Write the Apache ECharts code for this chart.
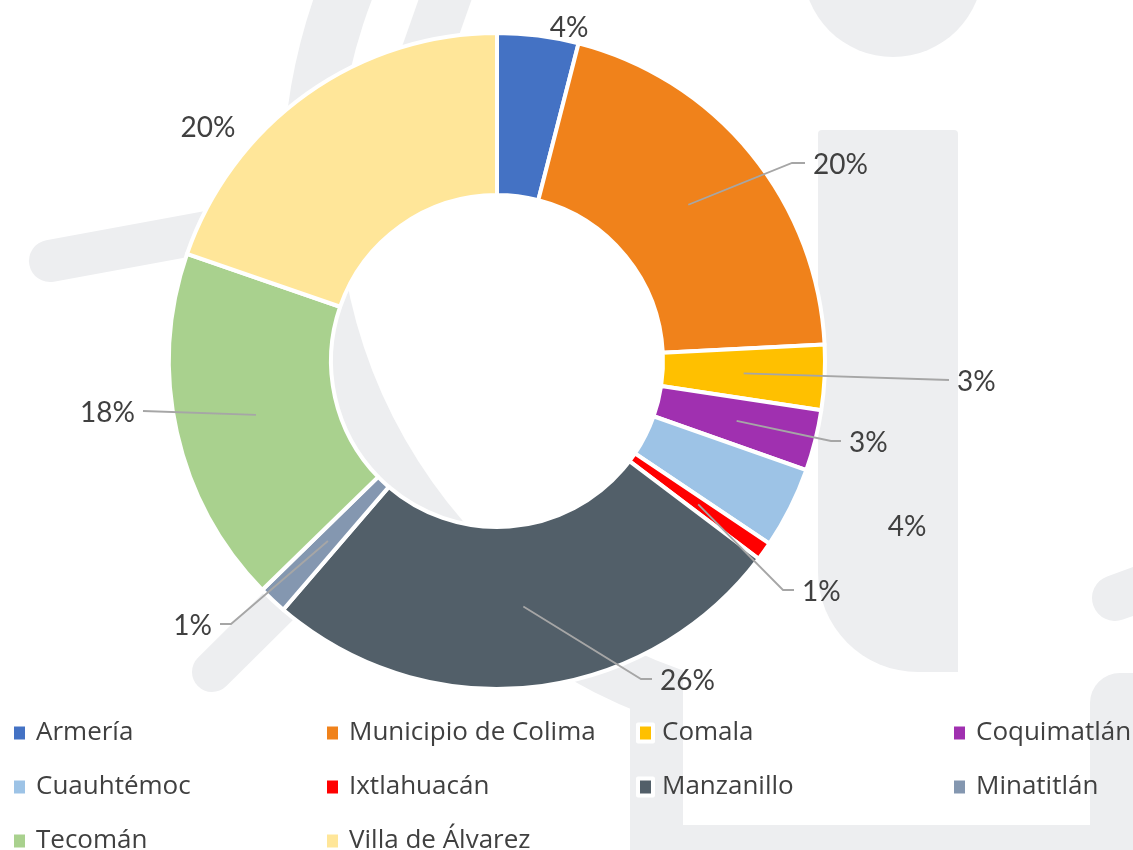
<!DOCTYPE html>
<html>
<head>
<meta charset="utf-8">
<title>Distribución por municipio</title>
<script src="https://cdn.jsdelivr.net/npm/echarts/dist/echarts.min.js"></script>
<style>
  html, body { margin: 0; padding: 0; background: #fff; }
  #chart { width: 1133px; height: 850px; }
</style>
</head>
<body>
<div id="chart"></div>
<script>
// datos
var municipios = ['Armería', 'Municipio de Colima', 'Comala', 'Coquimatlán', 'Cuauhtémoc',
                  'Ixtlahuacán', 'Manzanillo', 'Minatitlán', 'Tecomán', 'Villa de Álvarez'];
var porcentajes = [4.0, 20.2, 3.2, 3.0, 4.0, 0.9, 26.0, 1.4, 17.6, 19.7];
var colores = ['#4472c4', '#f0821b', '#ffc000', '#a030b0', '#9dc3e6',
               '#ff0000', '#525f69', '#8497b0', '#a9d18e', '#ffe699'];

// posicion de cada etiqueta [x, y, alineacion] y largo del codo (null = sin linea)
var etiquetaPos = [
  [569, 28, 'center'], [813, 165, 'left'], [957, 382, 'left'], [849, 443, 'left'],
  [907, 527, 'center'], [802, 592, 'left'], [660, 681, 'left'], [212, 626, 'right'],
  [135, 413, 'right'], [208, 128, 'center']
];
var codo = [null, 13, 0, 10, null, 11, 11, 11, 0, null];

var CENTRO = [497, 361];
var RADIOS = [166, 328];
var R_LINEA = (RADIOS[0] + RADIOS[1]) / 2;
var FUENTE = 'Lato, "Noto Sans", sans-serif';
var GRIS = '#edeef0';

var total = porcentajes.reduce(function (a, b) { return a + b; }, 0);
var angMedio = [];
var acum = 0;
porcentajes.forEach(function (v) {
  angMedio.push((acum + v / 2) / total * 2 * Math.PI);
  acum += v;
});

var datos = municipios.map(function (m, i) {
  return { name: m, value: porcentajes[i], itemStyle: { color: colores[i] } };
});

// lineas guia: del centro del anillo (angulo medio de cada porcion) hasta la etiqueta
var guias = [];
codo.forEach(function (k, i) {
  if (k == null) return;
  var a = angMedio[i];
  var pos = etiquetaPos[i];
  var dir = pos[2] === 'right' ? 1 : -1;
  var fin = [pos[0] + dir * 8, pos[1] - 2];
  var rodilla = [fin[0] + dir * k, fin[1]];
  var inicio = [CENTRO[0] + R_LINEA * Math.sin(a), CENTRO[1] - R_LINEA * Math.cos(a)];
  guias.push({
    type: 'polyline', z: 10, silent: true,
    shape: { points: [inicio, rodilla, fin] },
    style: { stroke: '#a6a6a6', lineWidth: 1.8, fill: null }
  });
});

// leyenda en 4 columnas
var columnas = [[0, 4, 8], [1, 5, 9], [2, 6], [3, 7]];
var columnasX = [10, 323, 636, 950];
var leyendas = columnas.map(function (c, k) {
  return {
    data: c.map(function (i) { return municipios[i]; }),
    orient: 'vertical',
    left: columnasX[k],
    top: 718,
    height: 200,
    padding: 0,
    itemGap: 24,
    itemWidth: 15,
    itemHeight: 17,
    icon: 'rect',
    selectedMode: false,
    itemStyle: { borderColor: '#fff', borderWidth: 4 },
    textStyle: { fontSize: 26, color: '#404040', fontFamily: '"Open Sans", sans-serif', lineHeight: 30, padding: [0, 0, 0, 4] }
  };
});

// marca de agua del fondo
var fondo = [
  { type: 'sector', shape: { cx: 851.5, cy: 184.6, r0: 514, r: 569,
      startAngle: 100 * Math.PI / 180, endAngle: 215 * Math.PI / 180, clockwise: true },
    style: { fill: GRIS } },
  { type: 'rect', shape: { x: 683, y: 640, width: 410, height: 185 }, style: { fill: '#fff' } },
  { type: 'rect', shape: { x: 630, y: 700, width: 53, height: 150 }, style: { fill: GRIS } },
  { type: 'rect', shape: { x: 630, y: 825, width: 503, height: 25 }, style: { fill: GRIS } },
  { type: 'rect', shape: { x: 1090, y: 673, width: 60, height: 177, r: [30, 0, 0, 0] }, style: { fill: GRIS } },
  { type: 'line', shape: { x1: 1115, y1: 598, x2: 1170, y2: 578 }, style: { stroke: GRIS, lineWidth: 46, lineCap: 'round' } },
  { type: 'rect', shape: { x: 818, y: 130, width: 140, height: 542, r: [4, 4, 0, 100] }, style: { fill: GRIS } },
  { type: 'circle', shape: { cx: 893, cy: -33, r: 90 }, style: { fill: GRIS } },
  { type: 'line', shape: { x1: 50, y1: 261, x2: 300, y2: 215 }, style: { stroke: GRIS, lineWidth: 42, lineCap: 'round' } },
  { type: 'line', shape: { x1: 212, y1: 672, x2: 330, y2: 555 }, style: { stroke: GRIS, lineWidth: 40, lineCap: 'round' } },
  { type: 'line', shape: { x1: 452, y1: -20, x2: 415, y2: 85 }, style: { stroke: GRIS, lineWidth: 50 } }
];
fondo.forEach(function (e) { e.z = 0; e.silent = true; });

var myChart = echarts.init(document.getElementById('chart'));
var option = {
  backgroundColor: '#fff',
  animation: false,
  graphic: { elements: fondo.concat(guias) },
  legend: leyendas,
  series: [{
    type: 'pie',
    center: CENTRO,
    radius: RADIOS,
    startAngle: 90,
    clockwise: true,
    avoidLabelOverlap: false,
    emphasis: { disabled: true },
    itemStyle: { borderColor: '#fff', borderWidth: 4 },
    label: {
      show: true,
      position: 'outside',
      fontSize: 28,
      color: '#404040',
      fontFamily: FUENTE,
      formatter: function (p) { return Math.round(p.percent) + '%'; }
    },
    labelLine: { show: false },
    labelLayout: function (p) {
      var pos = etiquetaPos[p.dataIndex];
      return { x: pos[0], y: pos[1], align: pos[2], verticalAlign: 'middle', hideOverlap: false };
    },
    data: datos
  }]
};
myChart.setOption(option);
</script>
</body>
</html>
